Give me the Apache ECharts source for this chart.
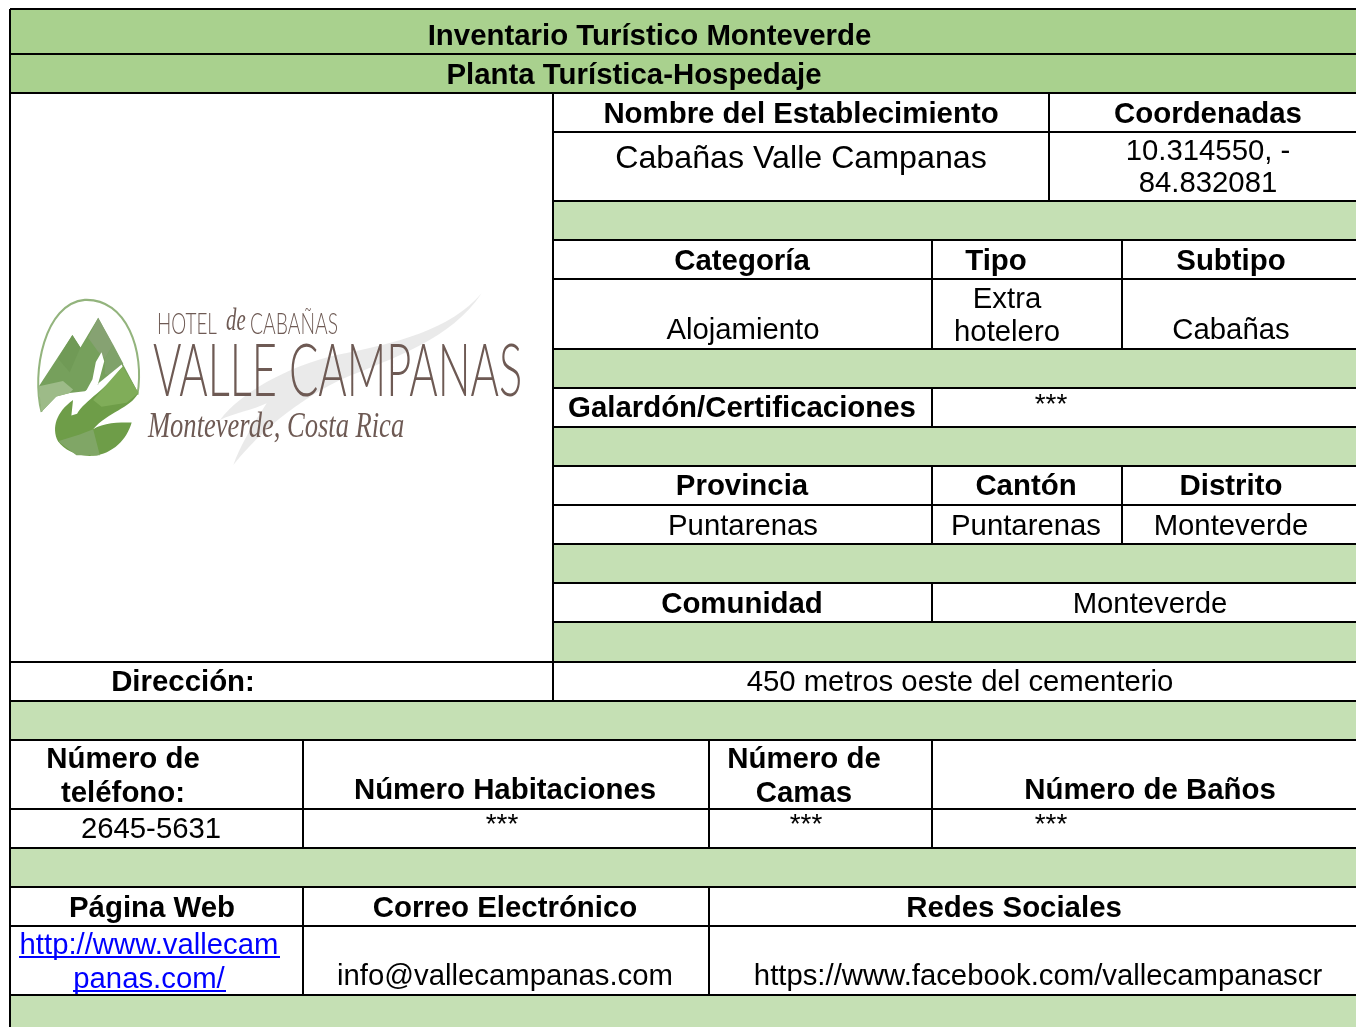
<!DOCTYPE html>
<html>
<head>
<meta charset="utf-8">
<title>Inventario Turístico Monteverde</title>
<script src="https://cdn.jsdelivr.net/npm/echarts@6/dist/echarts.min.js"></script>
<style>
  html, body { margin: 0; padding: 0; background: #fff; }
  #main { width: 1356px; height: 1027px; }
</style>
</head>
<body>
<div id="main"></div>
<script>
// table text, one entry per printed line
var titles = ['Inventario Turístico Monteverde', 'Planta Turística-Hospedaje'];
var establishment = ['Nombre del Establecimiento', 'Coordenadas', 'Cabañas Valle Campanas', '10.314550, -', '84.832081'];
var classification = ['Categoría', 'Tipo', 'Subtipo', 'Alojamiento', 'Extra', 'hotelero', 'Cabañas'];
var awards = ['Galardón/Certificaciones', '***'];
var location1 = ['Provincia', 'Cantón', 'Distrito', 'Puntarenas', 'Puntarenas', 'Monteverde'];
var community = ['Comunidad', 'Monteverde'];
var address = ['Dirección:', '450 metros oeste del cementerio'];
var capacity = ['Número de', 'teléfono:', 'Número Habitaciones', 'Número de', 'Camas', 'Número de Baños', '2645-5631', '***', '***', '***'];
var contact = ['Página Web', 'Correo Electrónico', 'Redes Sociales', 'http://www.vallecam', 'panas.com/', 'info@vallecampanas.com', 'https://www.facebook.com/vallecampanascr'];

var labels = [].concat(titles, establishment, classification, awards, location1, community, address, capacity, contact);

// layout of the lines above, same order: [centre x, centre y, kind]
// kind: b bold, r regular, l large, s stars, u link
var labelPlaces = [
  [649.5, 37, 'b'], [634, 76, 'b'],
  [801, 115, 'b'], [1208, 115, 'b'], [801, 159, 'l'], [1208, 152, 'r'], [1208, 184, 'r'],
  [742, 262, 'b'], [996, 262, 'b'], [1231, 262, 'b'], [743, 331, 'r'], [1007, 300, 'r'], [1007, 333, 'r'], [1231, 331, 'r'],
  [742, 409, 'b'], [1051, 405, 's'],
  [742, 487, 'b'], [1026, 487, 'b'], [1231, 487, 'b'], [743, 527, 'r'], [1026, 527, 'r'], [1231, 527, 'r'],
  [742, 605, 'b'], [1150, 605, 'r'],
  [183, 683, 'b'], [960, 683, 'r'],
  [123, 760, 'b'], [123, 794, 'b'], [505, 791, 'b'], [804, 760, 'b'], [804, 794, 'b'], [1150, 791, 'b'],
  [151, 830, 'r'], [502, 825, 's'], [806, 825, 's'], [1051, 825, 's'],
  [152, 909, 'b'], [505, 909, 'b'], [1014, 909, 'b'],
  [149, 946, 'u'], [149, 980, 'u'], [505, 977, 'r'], [1038, 977, 'r']
];
var kinds = {
  b: { font: 'bold 29.4px "Liberation Sans"', color: '#000' },
  r: { font: '29.3px "Liberation Sans"', color: '#000' },
  l: { font: '32.2px "Liberation Sans"', color: '#000' },
  s: { font: '28px "Liberation Sans"', color: '#000' },
  u: { font: '29.3px "Liberation Sans"', color: '#0000ff' }
};

// bands [top, bottom, colour]
var bandDark = '#a9d18e', bandLight = '#c5e0b4';
var bands = [
  [9, 54, bandDark], [54, 93, bandDark],
  [201, 240, bandLight], [349, 388, bandLight], [427, 466, bandLight], [544, 583, bandLight],
  [622, 662, bandLight], [701, 740, bandLight], [848, 887, bandLight], [995, 1027, bandLight]
];
var bandLeft = [10, 10, 553, 553, 553, 553, 553, 10, 10, 10];

// rules [x0, y0, x1, y1]
var fullRows = [9, 54, 93, 662, 701, 740, 809, 848, 887, 926, 995];
var rightRows = [132, 201, 240, 279, 349, 388, 427, 466, 505, 544, 583, 622];
var rules = [
  [10, 9, 10, 1027], [553, 93, 553, 701], [1049, 93, 1049, 201],
  [932, 240, 932, 349], [932, 388, 932, 427], [932, 466, 932, 544], [932, 583, 932, 622],
  [1122, 240, 1122, 349], [1122, 466, 1122, 544],
  [303, 740, 303, 848], [303, 887, 303, 995],
  [709, 740, 709, 848], [709, 887, 709, 995], [932, 740, 932, 848]
];
fullRows.forEach(function (y) { rules.push([10, y, 1356, y]); });
rightRows.forEach(function (y) { rules.push([553, y, 1356, y]); });

var linkRules = [[19, 957, 280, 957], [73, 991, 226, 991]];

var chart = echarts.init(document.getElementById('main'));

function lineItem(color, width) {
  return function (params, api) {
    var a = api.coord([api.value(0), api.value(1)]);
    var b = api.coord([api.value(2), api.value(3)]);
    return {
      type: 'line',
      shape: { x1: a[0], y1: a[1], x2: b[0], y2: b[1] },
      style: { stroke: color, lineWidth: width }
    };
  };
}

function poly(points, fill) {
  return { type: 'polygon', shape: { points: points }, style: { fill: fill } };
}

// logo drawing, coordinates are 3x around the emblem box
var logoBrown = '#6e5a54';
var logoFeather = {
  type: 'path', x: 20, y: 280, scaleX: 1 / 3, scaleY: 1 / 3,
  shape: { pathData: 'M1385 40 C1290 150 1130 190 950 225 C800 260 660 340 600 420 C640 400 700 390 740 370 C700 430 660 500 640 555 C700 480 800 380 960 300 C1130 230 1290 180 1385 40 Z' },
  style: { fill: 'rgba(150,150,150,0.2)' }
};
var logoEmblem = {
  type: 'group',
  x: 29.5, y: 293, scaleX: 0.335, scaleY: 0.345,
  children: [
    { type: 'path', shape: { pathData: 'M36 345 C5 230 45 30 165 20 C290 15 345 170 322 295' },
      style: { fill: 'none', stroke: '#93b47d', lineWidth: 6 } },
    // mountains
    poly([[35, 345], [28, 270], [128, 122], [152, 158], [205, 72], [325, 290], [275, 215], [205, 265], [165, 285], [120, 290], [80, 300]], '#76a05c'),
    poly([[205, 72], [250, 150], [225, 190], [205, 170], [175, 130]], '#86a272'),
    poly([[28, 270], [100, 255], [130, 280], [120, 290], [80, 300], [35, 345]], '#9dbb88'),
    poly([[128, 122], [152, 158], [120, 230], [85, 190]], '#709a56'),
    poly([[225, 190], [250, 150], [280, 205], [240, 240], [225, 235]], '#7fa26a'),
    // leaf
    { type: 'path', shape: { pathData: 'M85 430 C65 390 80 345 130 310 L125 355 L142 350 C165 310 230 280 278 212 L325 290 C300 335 235 345 190 395 C220 375 265 375 305 375 C290 425 250 465 190 472 C140 475 105 455 85 430 Z' },
      style: { fill: '#6e9d48' } },
    poly([[278, 212], [325, 290], [290, 318], [215, 330], [190, 310]], '#80ad59'),
    poly([[85, 430], [150, 410], [190, 395], [210, 470], [140, 470]], '#80a666'),
    // bird and the gap along the ridge
    poly([[215, 172], [198, 200], [188, 250], [170, 282], [145, 310], [128, 352], [147, 322], [168, 316], [198, 285], [210, 245], [223, 198]], '#fff'),
    poly([[205, 262], [275, 207], [278, 214], [208, 270]], '#fff')
  ]
};

function logoText(text, x, y, font, color, sx) {
  return {
    type: 'text', x: x, y: y, scaleX: sx || 1,
    style: { text: text, font: font, fill: color, textAlign: 'left', textVerticalAlign: 'middle' }
  };
}

var logoParts = [
  logoFeather,
  logoEmblem,
  logoText('HOTEL', 157, 324, '300 30px Lato', logoBrown, 0.63),
  logoText('de', 226, 322, 'italic 32px "Liberation Serif"', logoBrown, 0.65),
  logoText('CABAÑAS', 250, 324, '300 30px Lato', logoBrown, 0.644),
  logoText('VALLE CAMPANAS', 153, 373, '300 72px Lato', logoBrown, 0.604),
  logoText('Monteverde, Costa Rica', 148, 428, 'italic 36px "Liberation Serif"', logoBrown, 0.737)
];

var option = {
  animation: false,
  backgroundColor: '#fff',
  grid: { left: 0, right: 0, top: 0, bottom: 0 },
  xAxis: { type: 'value', min: 0, max: 1356, show: false },
  yAxis: { type: 'value', min: 0, max: 1027, inverse: true, show: false },
  series: [
    {
      type: 'custom', coordinateSystem: 'cartesian2d', clip: false, silent: true, z: 1,
      data: bands.map(function (b, i) { return [bandLeft[i], b[0], 1356, b[1]]; }),
      renderItem: function (params, api) {
        var a = api.coord([api.value(0), api.value(1)]);
        var b = api.coord([api.value(2), api.value(3)]);
        return {
          type: 'rect',
          shape: { x: a[0], y: a[1], width: b[0] - a[0], height: b[1] - a[1] },
          style: { fill: bands[params.dataIndex][2] }
        };
      }
    },
    {
      type: 'custom', coordinateSystem: 'cartesian2d', clip: false, silent: true, z: 2,
      data: rules, renderItem: lineItem('#000', 2)
    },
    {
      type: 'custom', coordinateSystem: 'cartesian2d', clip: false, silent: true, z: 3,
      data: linkRules, renderItem: lineItem('#0000ff', 2)
    },
    {
      type: 'custom', coordinateSystem: 'cartesian2d', clip: false, silent: true, z: 4,
      data: labelPlaces.map(function (p) { return [p[0], p[1]]; }),
      renderItem: function (params, api) {
        var p = api.coord([api.value(0), api.value(1)]);
        var kind = kinds[labelPlaces[params.dataIndex][2]];
        return {
          type: 'text',
          x: p[0], y: p[1],
          style: {
            text: labels[params.dataIndex],
            font: kind.font,
            fill: kind.color,
            textAlign: 'center',
            textVerticalAlign: 'middle'
          }
        };
      }
    },
    {
      type: 'custom', coordinateSystem: 'cartesian2d', clip: false, silent: true, z: 2,
      data: [[0, 0]],
      renderItem: function () {
        return { type: 'group', children: logoParts };
      }
    }
  ]
};
chart.setOption(option);
</script>
</body>
</html>
